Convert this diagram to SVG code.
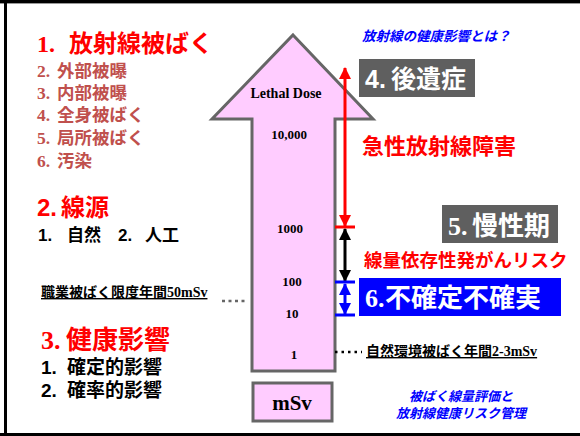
<svg xmlns="http://www.w3.org/2000/svg" width="580" height="436" viewBox="0 0 580 436">
<style>
.jp{font-family:"Noto Sans CJK JP","Noto Sans",sans-serif;font-weight:bold}
.sr{font-family:"Liberation Serif","Times New Roman",serif;font-weight:bold}
.sn{font-family:"Liberation Sans",Arial,sans-serif;font-weight:bold}
.red{fill:#ff0000}
.brn{fill:#c0504d}
.blk{fill:#000}
.wht{fill:#fff}
.blu{fill:#0000ff}
.it{font-style:italic}
.num{font-family:"Liberation Serif",serif;font-weight:bold;font-size:13px;fill:#000;text-anchor:middle}
</style>
<defs>
<marker id="ar" markerUnits="userSpaceOnUse" markerWidth="12" markerHeight="12" refX="11" refY="6" orient="auto-start-reverse" viewBox="0 0 12 12"><path d="M0,0 L12,6 L0,12 Z" fill="#ff0000"/></marker>
<marker id="ak" markerUnits="userSpaceOnUse" markerWidth="12" markerHeight="12" refX="11" refY="6" orient="auto-start-reverse" viewBox="0 0 12 12"><path d="M0,0 L12,6 L0,12 Z" fill="#000"/></marker>
<marker id="ab" markerUnits="userSpaceOnUse" markerWidth="12" markerHeight="12" refX="11" refY="6" orient="auto-start-reverse" viewBox="0 0 12 12"><path d="M0,0 L12,6 L0,12 Z" fill="#0000ff"/></marker>
</defs>
<rect width="580" height="436" fill="#fff"/>
<g id="frame">
<rect x="0" y="0" width="580" height="3" fill="#000"/>
<rect x="0" y="3" width="580" height="1" fill="#999"/>
<rect x="4" y="0" width="3" height="436" fill="#000"/>
<rect x="0" y="433" width="580" height="3" fill="#000"/>
</g>
<g id="left-list">
<text x="37" y="52" font-size="24" class="red"><tspan class="sr">1.</tspan><tspan class="jp" x="69">放射線被ばく</tspan></text>
<text x="37" y="77" font-size="17.5" class="brn"><tspan class="sr">2.</tspan><tspan class="jp" x="57">外部被曝</tspan></text>
<text x="37" y="99" font-size="17.5" class="brn"><tspan class="sr">3.</tspan><tspan class="jp" x="57">内部被曝</tspan></text>
<text x="37" y="121" font-size="17.5" class="brn"><tspan class="sr">4.</tspan><tspan class="jp" x="57">全身被ばく</tspan></text>
<text x="37" y="144" font-size="17.5" class="brn"><tspan class="sr">5.</tspan><tspan class="jp" x="57">局所被ばく</tspan></text>
<text x="37" y="167" font-size="17.5" class="brn"><tspan class="sr">6.</tspan><tspan class="jp" x="57">汚染</tspan></text>
<text x="37" y="216" font-size="24" class="red"><tspan class="sn">2.</tspan><tspan class="jp" x="61">線源</tspan></text>
<text x="38" y="241" font-size="17" class="blk"><tspan class="sn">1.</tspan><tspan class="jp" x="67">自然</tspan><tspan class="sn" x="118">2.</tspan><tspan class="jp" x="145">人工</tspan></text>
<text x="41" y="297" font-size="14" class="blk" text-decoration="underline"><tspan class="jp">職業被ばく限度年間</tspan><tspan class="sr">50mSv</tspan></text>
<text x="41" y="349" font-size="26" class="red"><tspan class="sr">3.</tspan><tspan class="jp" x="66">健康影響</tspan></text>
<text x="41" y="374" font-size="19" class="blk"><tspan class="sn">1.</tspan><tspan class="jp" x="67">確定的影響</tspan></text>
<text x="41" y="397" font-size="19" class="blk"><tspan class="sn">2.</tspan><tspan class="jp" x="67">確率的影響</tspan></text>
</g>
<g id="dose-arrow">
<path d="M293,35 L373,119 L335,119 L335,371 L252,371 L252,119 L212,119 Z" fill="#ffccff" stroke="#666" stroke-width="3" stroke-linejoin="miter"/>
<text x="286" y="98" font-size="14" class="sr blk" text-anchor="middle">Lethal Dose</text>
<text x="289" y="139" class="num">10,000</text>
<text x="290" y="233" class="num">1000</text>
<text x="292" y="286" class="num">100</text>
<text x="292" y="318" class="num">10</text>
<text x="294" y="359" class="num">1</text>
</g>
<g id="unit-box">
<rect x="253" y="383" width="79" height="38" fill="#ffccff" stroke="#666" stroke-width="3"/>
<text x="292" y="410" font-size="21" class="sr blk" text-anchor="middle">mSv</text>
</g>
<g id="title">
<text x="362" y="41" font-size="13.5" class="jp blu it">放射線の健康影響とは？</text>
</g>
<g id="box4">
<rect x="359" y="59" width="116" height="38" fill="#5f5f5f"/>
<text x="365" y="88" font-size="25" class="wht"><tspan class="sn">4.</tspan><tspan class="jp" x="391">後遺症</tspan></text>
</g>
<g id="acute">
<text x="362" y="154" font-size="22" class="jp red">急性放射線障害</text>
</g>
<g id="box5">
<rect x="442" y="205" width="116" height="38" fill="#5f5f5f"/>
<text x="448" y="235" font-size="26" class="wht"><tspan class="sr">5.</tspan><tspan class="jp" x="472">慢性期</tspan></text>
</g>
<g id="cancer">
<text x="364" y="267" font-size="18.5" class="jp red">線量依存性発がんリスク</text>
</g>
<g id="box6">
<rect x="359" y="278" width="202" height="38" fill="#0000ff"/>
<text x="365" y="307" font-size="26" class="wht"><tspan class="sr">6.</tspan><tspan class="jp" x="385">不確定不確実</tspan></text>
</g>
<g id="natural">
<text x="366" y="356" font-size="14" class="blk" text-decoration="underline"><tspan class="jp">自然環境被ばく年間</tspan><tspan class="sr">2-3mSv</tspan></text>
</g>
<g id="footer">
<text x="461" y="401" font-size="13" class="jp blu it" text-anchor="middle">被ばく線量評価と</text>
<text x="461" y="418" font-size="13" class="jp blu it" text-anchor="middle">放射線健康リスク管理</text>
</g>
<g id="connectors">
<line x1="345" y1="68" x2="345" y2="226" stroke="#ff0000" stroke-width="3" marker-start="url(#ar)" marker-end="url(#ar)"/>
<line x1="335" y1="227" x2="355" y2="227" stroke="#ff0000" stroke-width="3"/>
<line x1="345" y1="229" x2="345" y2="281" stroke="#000" stroke-width="3" marker-start="url(#ak)" marker-end="url(#ak)"/>
<line x1="335" y1="282" x2="355" y2="282" stroke="#0000ff" stroke-width="3"/>
<line x1="345" y1="284" x2="345" y2="314" stroke="#0000ff" stroke-width="3" marker-start="url(#ab)" marker-end="url(#ab)"/>
<line x1="335" y1="315" x2="355" y2="315" stroke="#0000ff" stroke-width="3"/>
<line x1="222" y1="301" x2="248" y2="301" stroke="#666" stroke-width="2.5" stroke-dasharray="3 3.5"/>
<line x1="335" y1="352" x2="362" y2="352" stroke="#000" stroke-width="2.5" stroke-dasharray="2.5 4"/>
</g>
</svg>
